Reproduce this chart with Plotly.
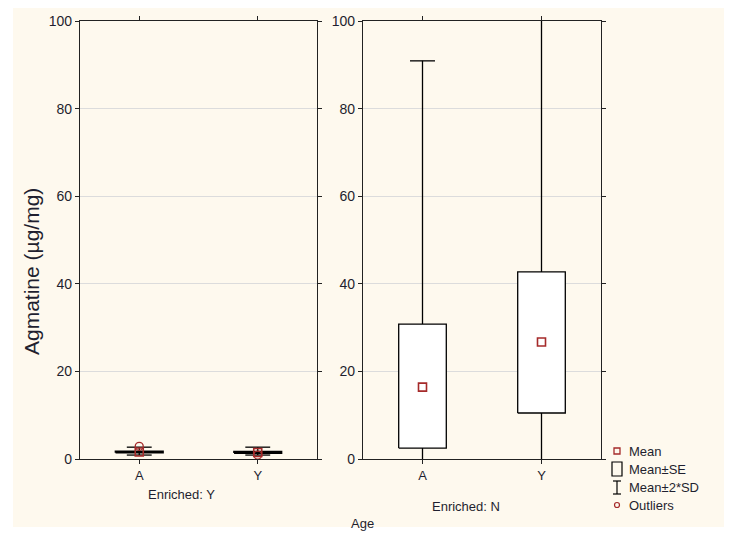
import plotly.graph_objects as go

W, H = 732, 533
OFF = 8  # page body margin offset

categories = ["A", "Y"]
panels = ["Enriched: Y", "Enriched: N"]

# per panel, per category
mean_vals = [[1.6, 1.5], [16.4, 26.7]]
se_low = [[1.45, 1.35], [2.5, 10.5]]
se_high = [[1.75, 1.65], [30.8, 42.7]]
sd_low = [[0.9, 0.9], [-58.0, -53.0]]
sd_high = [[2.7, 2.7], [90.9, 106.7]]
outliers = [[[2.9], [0.9]], [[], []]]

y_ticks = [0, 20, 40, 60, 80, 100]

MEAN_COL = "#a52a2a"
FONT = "Liberation Sans, Arial, sans-serif"
TXT = "#1f1f2f"

def px_x(v):
    return (v - OFF) / W

def px_y(v):
    return 1 - (v - OFF) / H

fig = go.Figure()

doms = [[px_x(80), px_x(317)], [px_x(363), px_x(601)]]
ydom = [px_y(459), px_y(21)]

bw = 0.2
cw = 0.105
for p in range(2):
    xa = "x" if p == 0 else "x2"
    ya = "y" if p == 0 else "y2"
    for i in range(2):
        m = mean_vals[p][i]
        lo, hi = se_low[p][i], se_high[p][i]
        slo, shi = sd_low[p][i], sd_high[p][i]
        fig.add_trace(go.Scatter(x=[i, i, None, i - cw, i + cw], y=[lo, slo, None, slo, slo],
                                 mode="lines", line=dict(color="black", width=1.3),
                                 xaxis=xa, yaxis=ya, showlegend=False, hoverinfo="skip"))
        fig.add_trace(go.Scatter(x=[i, i, None, i - cw, i + cw], y=[hi, shi, None, shi, shi],
                                 mode="lines", line=dict(color="black", width=1.3),
                                 xaxis=xa, yaxis=ya, showlegend=False, hoverinfo="skip"))
        fig.add_trace(go.Scatter(x=[i - bw, i + bw, i + bw, i - bw, i - bw],
                                 y=[lo, lo, hi, hi, lo], mode="lines",
                                 fill="toself", fillcolor="white",
                                 line=dict(color="black", width=1.3 if p == 1 else 1.8),
                                 xaxis=xa, yaxis=ya, showlegend=False, hoverinfo="skip"))
        fig.add_trace(go.Scatter(x=[i], y=[m], mode="markers",
                                 marker=dict(symbol="square-open", size=8, color=MEAN_COL,
                                             line=dict(width=1.6, color=MEAN_COL)),
                                 xaxis=xa, yaxis=ya, showlegend=False))
        if outliers[p][i]:
            fig.add_trace(go.Scatter(x=[i] * len(outliers[p][i]), y=outliers[p][i], mode="markers",
                                     marker=dict(symbol="circle-open", size=8, color=MEAN_COL,
                                                 line=dict(width=1.3, color=MEAN_COL)),
                                     xaxis=xa, yaxis=ya, showlegend=False))

axis_common = dict(showline=True, linecolor="#222", linewidth=1.3, mirror="ticks",
                   ticks="outside", ticklen=4, tickcolor="#222", automargin=False,
                   zeroline=False)
xfont = dict(family=FONT, size=13, color=TXT)
yfont = dict(family=FONT, size=14, color=TXT)

fig.update_layout(
    width=W, height=H, margin=dict(l=0, r=0, t=0, b=0, autoexpand=False),
    paper_bgcolor="white", plot_bgcolor="white",
    xaxis=dict(domain=doms[0], range=[-0.5, 1.5], tickvals=[0, 1], ticktext=categories,
               showgrid=False, anchor="y", tickfont=xfont, **axis_common),
    xaxis2=dict(domain=doms[1], range=[-0.5, 1.5], tickvals=[0, 1], ticktext=categories,
                showgrid=False, anchor="y2", tickfont=xfont, **axis_common),
    yaxis=dict(domain=ydom, range=[0, 100], tickvals=y_ticks, showgrid=True,
               gridcolor="#dcdcdc", gridwidth=1, anchor="x", tickfont=yfont, **axis_common),
    yaxis2=dict(domain=ydom, range=[0, 100], tickvals=y_ticks, showgrid=True,
                gridcolor="#dcdcdc", gridwidth=1, anchor="x2", tickfont=yfont, **axis_common),
)

shapes = [dict(type="rect", xref="paper", yref="paper", x0=px_x(13), x1=px_x(724),
               y0=px_y(527), y1=px_y(7), fillcolor="#fef9ee", line=dict(width=0), layer="below")]

lx = 617
shapes.append(dict(type="rect", xref="paper", yref="paper", x0=px_x(lx - 3), x1=px_x(lx + 3),
                   y0=px_y(454), y1=px_y(448), line=dict(color=MEAN_COL, width=1.3)))
shapes.append(dict(type="rect", xref="paper", yref="paper", x0=px_x(lx - 5), x1=px_x(lx + 5),
                   y0=px_y(476), y1=px_y(462), line=dict(color="black", width=1.2)))
shapes.append(dict(type="line", xref="paper", yref="paper", x0=px_x(lx), x1=px_x(lx),
                   y0=px_y(494), y1=px_y(481), line=dict(color="black", width=1.2)))
shapes.append(dict(type="line", xref="paper", yref="paper", x0=px_x(lx - 4), x1=px_x(lx + 4),
                   y0=px_y(481), y1=px_y(481), line=dict(color="black", width=1.2)))
shapes.append(dict(type="line", xref="paper", yref="paper", x0=px_x(lx - 4), x1=px_x(lx + 4),
                   y0=px_y(494), y1=px_y(494), line=dict(color="black", width=1.2)))
shapes.append(dict(type="circle", xref="paper", yref="paper", x0=px_x(lx - 2.5), x1=px_x(lx + 2.5),
                   y0=px_y(507.5), y1=px_y(502.5), line=dict(color=MEAN_COL, width=1.2)))
fig.update_layout(shapes=shapes)

ann = []
for txt, yy in [("Mean", 451), ("Mean±SE", 469), ("Mean±2*SD", 487), ("Outliers", 505)]:
    ann.append(dict(text=txt, x=px_x(627), y=px_y(yy), xref="paper", yref="paper",
                    xanchor="left", yanchor="middle", showarrow=False,
                    font=dict(family=FONT, size=13, color=TXT)))
ann.append(dict(text=panels[0], x=px_x(181), y=px_y(494), xref="paper", yref="paper",
                xanchor="center", yanchor="middle", showarrow=False,
                font=dict(family=FONT, size=13, color=TXT)))
ann.append(dict(text=panels[1], x=px_x(466), y=px_y(506), xref="paper", yref="paper",
                xanchor="center", yanchor="middle", showarrow=False,
                font=dict(family=FONT, size=13, color=TXT)))
ann.append(dict(text="Age", x=px_x(362), y=px_y(523), xref="paper", yref="paper",
                xanchor="center", yanchor="middle", showarrow=False,
                font=dict(family=FONT, size=13, color=TXT)))
ann.append(dict(text="Agmatine (µg/mg)", x=px_x(31), y=px_y(272), xref="paper", yref="paper",
                xanchor="center", yanchor="middle", showarrow=False, textangle=-90,
                font=dict(family=FONT, size=21, color=TXT)))
fig.update_layout(annotations=ann)

fig.write_html("out.html")
